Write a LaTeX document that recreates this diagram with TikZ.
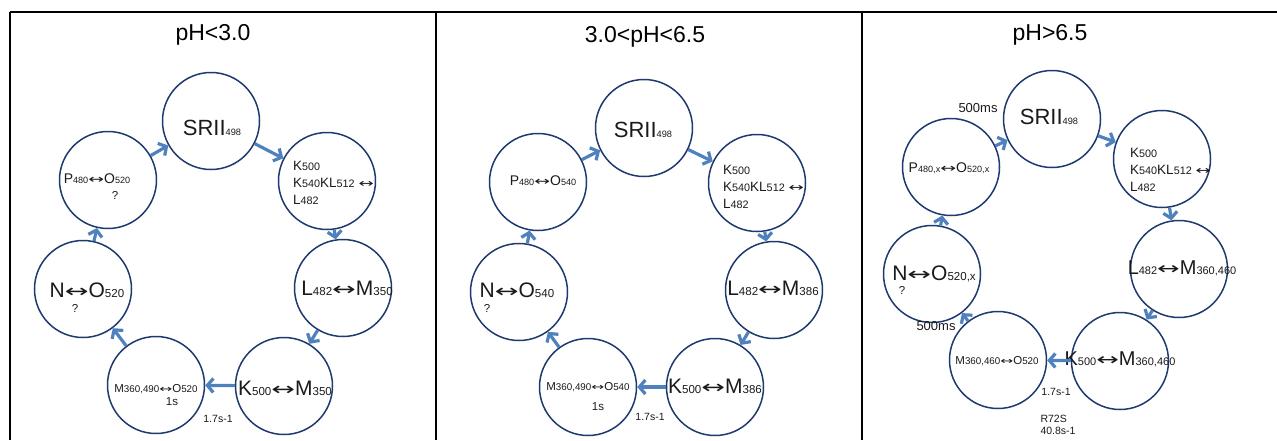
\documentclass[tikz,border=0pt]{standalone}
\usepackage{fontspec}
\setmainfont{Liberation Sans}
\newfontfamily\arrowfont{DejaVu Sans}
\usepackage{graphicx}
\usetikzlibrary{arrows.meta}
\definecolor{ringnavy}{HTML}{1F3A6E}
\definecolor{flowblue}{HTML}{4F81BD}
\definecolor{inkgray}{HTML}{1A1A1A}
\newcommand{\lowr}[2][0.55]{\scalebox{#1}{#2}}
\newcommand{\lra}{{\arrowfont\scalebox{1.35}[0.85]{↔}}}

\begin{document}
\begin{tikzpicture}[x=1pt, y=-1pt,
  ring/.style={circle, draw=ringnavy, line width=1.5pt, minimum size=97pt, inner sep=0pt},
  flow/.style={flowblue, line width=3.2pt, -{Straight Barb[length=6pt, width=14pt]}},
  headtxt/.style={anchor=base, text=black, font=\fontsize{23}{27}\selectfont},
  srtxt/.style={anchor=base, text=inkgray, font=\fontsize{22}{26}\selectfont},
  bigtxt/.style={anchor=base, text=inkgray, font=\fontsize{21}{25}\selectfont},
  midtxt/.style={anchor=base, text=inkgray, font=\fontsize{14}{17}\selectfont},
  smalltxt/.style={anchor=base, text=inkgray, font=\fontsize{11.5}{13}\selectfont},
  notetxt/.style={anchor=base, text=inkgray, font=\fontsize{10.5}{12.5}\selectfont},
  blocktxt/.style={anchor=west, align=left, inner sep=0pt, text=inkgray, font=\fontsize{13.5}{17}\selectfont}]
  \useasboundingbox (0,0) rectangle (1277,440);
  \draw[line width=2.5pt] (10,12) -- (1277,12);
  \draw[line width=2.5pt] (10,12) -- (10,440);
  \draw[line width=2.5pt] (436,12) -- (436,440);
  \draw[line width=2.5pt] (862,12) -- (862,440);

  \node[headtxt] (h1) at (213,40) {pH<3.0};
  \node[ring] (s1) at (211,121) {};
  \node[ring] (k1) at (327,181) {};
  \node[ring] (l1) at (343,288) {};
  \node[ring] (m1) at (284,386) {};
  \node[ring] (o1) at (156,385) {};
  \node[ring] (n1) at (83,289) {};
  \node[ring] (p1) at (108,180) {};
  \node[srtxt] (s1t) at (212,135) {SRII\lowr[0.42]{498}};
  \node[blocktxt] (k1t) at (293,183) {K\lowr[0.8]{500}\\K\lowr[0.8]{540}KL\lowr[0.8]{512} \lra\\L\lowr[0.8]{482}};
  \node[bigtxt] (l1t) at (347,295) {L\lowr{482}\lra M\lowr{350}};
  \node[bigtxt] (m1t) at (285,395) {K\lowr{500}\lra M\lowr{350}};
  \node[smalltxt] (o1t) at (156,392) {M\lowr[0.85]{360,490}\lra O\lowr[0.85]{520}};
  \node[smalltxt] (o1s) at (172,405) {1s};
  \node[notetxt] (r1) at (218,422) {1.7s-1};
  \node[bigtxt] (n1t) at (87,297) {N\lra O\lowr{520}};
  \node[smalltxt] (n1q) at (75,312) {?};
  \node[midtxt] (p1t) at (97,183) {P\lowr[0.65]{480}\lra O\lowr[0.65]{520}};
  \node[smalltxt] (p1q) at (115,199) {?};
  \draw[flow] (s1) -- (k1);
  \draw[flow] (k1) -- (l1);
  \draw[flow] (l1) -- (m1);
  \draw[flow] (m1) -- (o1);
  \draw[flow] (o1) -- (n1);
  \draw[flow] (n1) -- (p1);
  \draw[flow] (p1) -- (s1);

  \node[headtxt] (h2) at (645,42) {3.0<pH<6.5};
  \node[ring] (s2) at (644,128) {};
  \node[ring] (k2) at (757,183) {};
  \node[ring] (l2) at (774,290) {};
  \node[ring] (m2) at (715,387) {};
  \node[ring] (o2) at (588,387) {};
  \node[ring] (n2) at (519,292) {};
  \node[ring] (p2) at (538,182) {};
  \node[srtxt] (s2t) at (643,137) {SRII\lowr[0.42]{498}};
  \node[blocktxt] (k2t) at (723,187) {K\lowr[0.8]{500}\\K\lowr[0.8]{540}KL\lowr[0.8]{512} \lra\\L\lowr[0.8]{482}};
  \node[bigtxt] (l2t) at (773,295) {L\lowr{482}\lra M\lowr{386}};
  \node[bigtxt] (m2t) at (715,393) {K\lowr{500}\lra M\lowr{386}};
  \node[smalltxt] (o2t) at (588,390) {M\lowr[0.85]{360,490}\lra O\lowr[0.85]{540}};
  \node[smalltxt] (o2s) at (598,410) {1s};
  \node[notetxt] (r2) at (650,420) {1.7s-1};
  \node[bigtxt] (n2t) at (517,297) {N\lra O\lowr{540}};
  \node[smalltxt] (n2q) at (487,312) {?};
  \node[midtxt] (p2t) at (543,185) {P\lowr[0.65]{480}\lra O\lowr[0.65]{540}};
  \draw[flow] (s2) -- (k2);
  \draw[flow] (k2) -- (l2);
  \draw[flow] (l2) -- (m2);
  \draw[flow] (m2) -- (o2);
  \draw[flow] (o2) -- (n2);
  \draw[flow] (n2) -- (p2);
  \draw[flow] (p2) -- (s2);

  \node[headtxt] (h3) at (1050,40) {pH>6.5};
  \node[ring] (s3) at (1052,119) {};
  \node[ring] (k3) at (1162,159) {};
  \node[ring] (l3) at (1179,269) {};
  \node[ring] (m3) at (1120,361) {};
  \node[ring] (o3) at (998,360) {};
  \node[ring] (n3) at (932,274) {};
  \node[ring] (p3) at (951,167) {};
  \node[srtxt] (s3t) at (1049,124) {SRII\lowr[0.42]{498}};
  \node[midtxt, font=\fontsize{13}{15}\selectfont] (t3a) at (978,112) {500ms};
  \node[blocktxt] (k3t) at (1130,170) {K\lowr[0.8]{500}\\K\lowr[0.8]{540}KL\lowr[0.8]{512} \lra\\L\lowr[0.8]{482}};
  \node[bigtxt, font=\fontsize{20}{24}\selectfont] (l3t) at (1182,274) {L\lowr{482}\lra M\lowr{360,460}};
  \node[bigtxt, font=\fontsize{20}{24}\selectfont] (m3t) at (1120,365) {K\lowr{500}\lra M\lowr{360,460}};
  \node[smalltxt] (o3t) at (997,364) {M\lowr[0.85]{360,460}\lra O\lowr[0.85]{520}};
  \node[midtxt, font=\fontsize{13}{15}\selectfont] (t3b) at (936,330) {500ms};
  \node[notetxt] (r3) at (1056,395) {1.7s-1};
  \node[notetxt, anchor=base west] (r3b) at (1037,422) {R72S};
  \node[notetxt, anchor=base west] (r3c) at (1037,434) {40.8s-1};
  \node[bigtxt] (n3t) at (934,280) {N\lra O\lowr{520,x}};
  \node[smalltxt] (n3q) at (902,294) {?};
  \node[midtxt] (p3t) at (949,172) {P\lowr[0.65]{480,x}\lra O\lowr[0.65]{520,x}};
  \draw[flow] (s3) -- (k3);
  \draw[flow] (k3) -- (l3);
  \draw[flow] (l3) -- (m3);
  \draw[flow] (m3) -- (o3);
  \draw[flow] (o3) -- (n3);
  \draw[flow] (n3) -- (p3);
  \draw[flow] (p3) -- (s3);
\end{tikzpicture}
\end{document}
